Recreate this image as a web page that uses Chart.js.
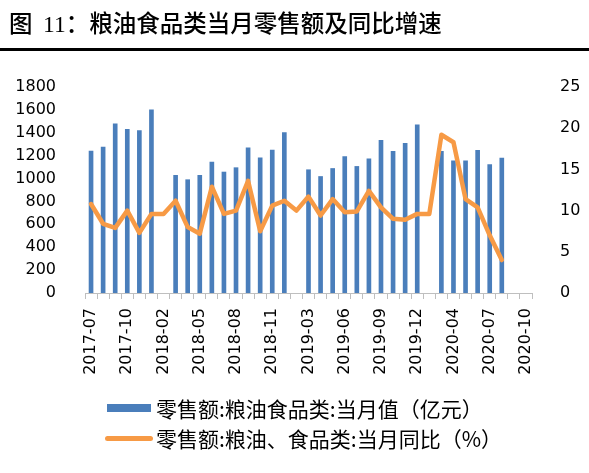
<!DOCTYPE html>
<html>
<head>
<meta charset="utf-8">
<script src="https://cdn.jsdelivr.net/npm/chart.js@4"></script>
<style>
  body { margin: 0; background: #fff; }
  #wrap { position: relative; width: 589px; height: 473px; }
  #title { position: absolute; left: 9px; top: 10px; font: 500 23.5px/24px "Noto Sans CJK SC", sans-serif; color: #000; white-space: nowrap; }
  #title .num { font-family: "Liberation Serif", serif; font-weight: 400; }
  #rule { position: absolute; left: 0; top: 48px; width: 589px; height: 3px; background: #000; }
  canvas { position: absolute; left: 0; top: 0; }
  .leg { position: absolute; left: 0; height: 30px; font: 400 21px/30px "Noto Sans CJK SC", sans-serif; color: #000; white-space: nowrap; }
  .leg .sw { position: absolute; }
  .leg .tx { position: absolute; left: 156px; top: 0; }
</style>
</head>
<body>
<div id="wrap">
  <canvas id="chart" width="589" height="473"></canvas>
  <div id="title">图&nbsp;&nbsp;<span class="num">11</span>：粮油食品类当月零售额及同比增速</div>
  <div id="rule"></div>
  <div class="leg" style="top:393px">
    <span class="sw" style="left:107px; top:11px; width:44px; height:8px; background:#4A7EBB"></span>
    <span class="tx" id="leg0"></span>
  </div>
  <div class="leg" style="top:423px">
    <span class="sw" style="left:105px; top:13px; width:48px; height:5px; border-radius:3px; background:#F79A45"></span>
    <span class="tx" id="leg1"></span>
  </div>
</div>
<script>
const categories = [
  '2017-07','2017-08','2017-09','2017-10','2017-11','2017-12',
  '2018-02','2018-03','2018-04','2018-05','2018-06','2018-07','2018-08','2018-09','2018-10','2018-11','2018-12',
  '2019-02','2019-03','2019-04','2019-05','2019-06','2019-07','2019-08','2019-09','2019-10','2019-11','2019-12',
  '2020-02','2020-03','2020-04','2020-05','2020-06','2020-07','2020-08','2020-09','2020-10'
];

// 当月值（亿元）
const salesValues = [
  1240, 1275, 1478, 1430, 1420, 1600,
  null, 1028, 990, 1028, 1143, 1057, 1095, 1268, 1182, 1248, 1402,
  null, 1077, 1018, 1088, 1192, 1106, 1172, 1334, 1238, 1308, 1470,
  null, 1238, 1155, 1155, 1247, 1122, 1180, null, null
];

// 当月同比（%）
const yoyValues = [
  10.8, 8.4, 7.9, 10.0, 7.3, 9.6,
  9.6, 11.2, 8.0, 7.2, 12.9, 9.6, 10.0, 13.6, 7.5, 10.6, 11.2,
  10.0, 11.7, 9.4, 11.4, 9.8, 9.9, 12.4, 10.4, 9.0, 8.9, 9.6,
  9.6, 19.2, 18.3, 11.4, 10.4, 7.0, 4.0, null, null
];

const leftTicks = [0, 200, 400, 600, 800, 1000, 1200, 1400, 1600, 1800];
const rightTicks = [0, 5, 10, 15, 20, 25];

const seriesNames = ['零售额:粮油食品类:当月值（亿元）', '零售额:粮油、食品类:当月同比（%）'];
document.getElementById('leg0').textContent = seriesNames[0];
document.getElementById('leg1').textContent = seriesNames[1];

const numFont = { family: '"DejaVu Sans", sans-serif', size: 16 };

new Chart(document.getElementById('chart').getContext('2d'), {
  data: {
    labels: categories,
    datasets: [
      {
        type: 'bar',
        label: seriesNames[0],
        data: salesValues,
        backgroundColor: '#4A7EBB',
        borderWidth: 0,
        barThickness: 4,
        yAxisID: 'y',
        order: 2
      },
      {
        type: 'line',
        label: seriesNames[1],
        data: yoyValues,
        borderColor: '#F79A45',
        borderWidth: 4.5,
        pointRadius: 0,
        tension: 0,
        borderJoinStyle: 'round',
        borderCapStyle: 'round',
        yAxisID: 'y1',
        order: 1
      }
    ]
  },
  options: {
    responsive: false,
    animation: false,
    layout: { padding: { top: 87, left: 0, right: 0, bottom: 88 } },
    plugins: {
      tooltip: { enabled: false },
      legend: { display: false }
    },
    scales: {
      x: {
        offset: true,
        afterFit: (s) => { s.height = 92; },
        grid: {
          offset: true,
          drawOnChartArea: false,
          drawTicks: true,
          tickLength: 6,
          color: '#BFBFBF'
        },
        border: { display: true, color: '#BFBFBF' },
        ticks: {
          autoSkip: false,
          maxRotation: 90,
          minRotation: 90,
          padding: 9,
          color: '#000',
          font: numFont,
          callback: (v, i) => (i % 3 === 0 ? categories[i] : '')
        }
      },
      y: {
        position: 'left',
        min: 0,
        max: 1800,
        afterFit: (s) => { s.width = 85; },
        afterBuildTicks: (s) => { s.ticks = leftTicks.map(v => ({ value: v })); },
        grid: { display: false },
        border: { display: false },
        ticks: { color: '#000', font: numFont, padding: 21, callback: (v) => String(v) }
      },
      y1: {
        position: 'right',
        min: 0,
        max: 25,
        afterFit: (s) => { s.width = 57; },
        afterBuildTicks: (s) => { s.ticks = rightTicks.map(v => ({ value: v })); },
        grid: { display: false },
        border: { display: false },
        ticks: { color: '#000', font: numFont, padding: 20, callback: (v) => String(v) }
      }
    }
  }
});
</script>
</body>
</html>
